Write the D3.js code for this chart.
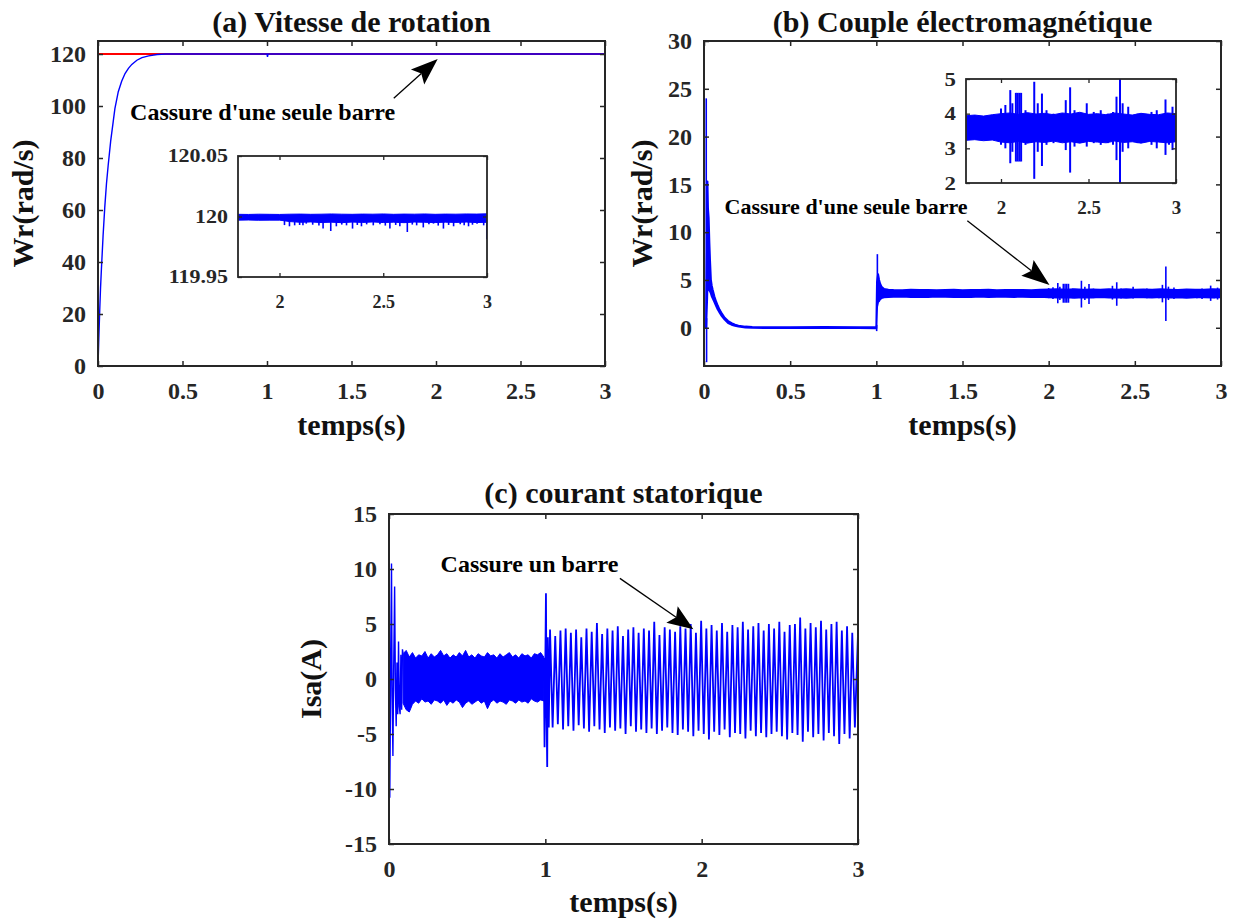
<!DOCTYPE html>
<html>
<head>
<meta charset="utf-8">
<script src="https://cdn.jsdelivr.net/npm/d3@7"></script>
<style>
  body { margin: 0; background: #fff; }
  svg { display: block; }
  svg text { font-family: "Liberation Serif", "Times New Roman", Times, serif !important; font-weight: bold; }
</style>
</head>
<body>
<script>
// ---------------- (a) rotor speed ----------------
const speedT = [0, 0.005, 0.01, 0.015, 0.02, 0.03, 0.04, 0.05, 0.06, 0.075, 0.09, 0.1, 0.12, 0.14, 0.16, 0.18, 0.2, 0.23, 0.26, 0.3, 0.35, 0.4, 0.5, 1.0, 1.003, 1.006, 3.0];
const speedW = [0, 11, 21, 30, 37, 50, 61, 70, 77, 86.5, 94, 99, 105.5, 109.5, 112.5, 114.5, 116, 117.6, 118.6, 119.3, 119.8, 120, 120, 120, 118.9, 120, 120];
const refT = [0, 3];
const refW = [120, 120];

// steady-state ripple of the speed (inset a)
const ripT  = [1.8, 1.85, 1.9, 1.95, 2.0, 2.05, 2.1, 2.15, 2.2, 2.25, 2.3, 2.35, 2.4, 2.45, 2.5, 2.55, 2.6, 2.65, 2.7, 2.75, 2.8, 2.85, 2.9, 2.95, 3.0];
const ripHi = [120.0018, 120.0017, 120.0019, 120.0018, 120.0017, 120.0019, 120.0020, 120.0018, 120.0019, 120.0021, 120.0019, 120.0018, 120.0020, 120.0019, 120.0021, 120.0018, 120.0020, 120.0019, 120.0021, 120.0018, 120.0020, 120.0019, 120.0021, 120.0020, 120.0022];
const ripLo = [119.9970, 119.9971, 119.9969, 119.9970, 119.9970, 119.9958, 119.9952, 119.9955, 119.9950, 119.9953, 119.9949, 119.9954, 119.9951, 119.9955, 119.9950, 119.9953, 119.9949, 119.9954, 119.9952, 119.9950, 119.9953, 119.9951, 119.9954, 119.9950, 119.9952];
const dipT = [2.024, 2.048, 2.073, 2.097, 2.113, 2.129, 2.16, 2.19, 2.21, 2.247, 2.274, 2.30, 2.323, 2.352, 2.375, 2.395, 2.42, 2.452, 2.484, 2.51, 2.532, 2.56, 2.58, 2.616, 2.64, 2.661, 2.693, 2.72, 2.742, 2.765, 2.79, 2.815, 2.839, 2.871, 2.89, 2.911, 2.93, 2.952, 2.984, 2.999];
const dipW = [119.9929, 119.9919, 119.9927, 119.9930, 119.9927, 119.9941, 119.9932, 119.9925, 119.9900, 119.9880, 119.9919, 119.9933, 119.9927, 119.9900, 119.9930, 119.9919, 119.9935, 119.9927, 119.9936, 119.9925, 119.9900, 119.9930, 119.9919, 119.9872, 119.9933, 119.9927, 119.9910, 119.9935, 119.9941, 119.9925, 119.9900, 119.9930, 119.9919, 119.9936, 119.9928, 119.9919, 119.9932, 119.9941, 119.9927, 119.9812];

// ---------------- (b) electromagnetic torque ----------------
const torqueT  = [0, 0.012, 0.018, 0.020, 0.023, 0.027, 0.031, 0.035, 0.040, 0.045, 0.050, 0.060, 0.070, 0.080, 0.090, 0.100, 0.120, 0.140, 0.160, 0.180, 0.200, 0.240, 0.280, 0.350, 0.500, 0.700, 0.900, 1.000, 1.004, 1.010, 1.016, 1.022, 1.030, 1.045, 1.070,
                  1.10, 1.15, 1.20, 1.25, 1.30, 1.35, 1.40, 1.45, 1.50, 1.55, 1.60, 1.65, 1.70, 1.75, 1.80, 1.85, 1.90, 1.95, 2.00, 2.05, 2.10, 2.15, 2.20, 2.25, 2.30, 2.35, 2.40, 2.45, 2.50, 2.55, 2.60, 2.65, 2.70, 2.75, 2.80, 2.85, 2.90, 2.95, 3.00];
const torqueHi = [0, 0, 9, 15.3, 12.5, 11.5, 9.0, 7.0, 5.0, 4.4, 4.0, 3.3, 2.75, 2.3, 1.9, 1.6, 1.05, 0.7, 0.48, 0.32, 0.22, 0.12, 0.08, 0.06, 0.06, 0.07, 0.06, 0.06, 4.8, 5.6, 5.0, 4.6, 4.3, 4.05, 3.98,
                  3.95, 3.93, 3.97, 3.94, 3.96, 3.92, 3.95, 3.98, 3.93, 3.96, 3.94, 3.97, 3.93, 3.95, 3.94, 3.96, 3.93, 3.97, 4.00, 4.02, 3.98, 4.03, 3.99, 4.01, 3.97, 4.02, 3.99, 4.04, 3.98, 4.00, 3.97, 4.02, 3.99, 3.96, 4.01, 3.98, 3.97, 4.02, 4.00];
const torqueLo = [0, 0, 3.0, 4.5, 4.3, 4.0, 3.9, 3.8, 3.6, 3.3, 3.1, 2.7, 2.3, 1.9, 1.6, 1.3, 0.85, 0.5, 0.32, 0.2, 0.12, 0.04, 0.01, -0.02, -0.03, -0.03, -0.03, -0.05, 2.2, 2.7, 2.8, 3.0, 3.1, 3.18, 3.22,
                  3.24, 3.26, 3.23, 3.25, 3.22, 3.26, 3.24, 3.21, 3.25, 3.23, 3.26, 3.22, 3.25, 3.24, 3.23, 3.25, 3.22, 3.24, 3.18, 3.16, 3.20, 3.15, 3.19, 3.17, 3.21, 3.16, 3.19, 3.15, 3.20, 3.18, 3.16, 3.21, 3.17, 3.19, 3.15, 3.20, 3.18, 3.16, 3.19];
const burstT  = [0.013, 0.015, 1.002, 1.006, 2.000, 2.025, 2.053, 2.065, 2.085, 2.095, 2.105, 2.115, 2.14, 2.19, 2.21, 2.234, 2.26, 2.30, 2.37, 2.395, 2.42, 2.49, 2.53, 2.57, 2.61, 2.64, 2.66, 2.68, 2.695, 2.727, 2.78, 2.86, 2.89, 2.94, 2.96, 2.98];
const burstHi = [24, 1.0, 0.3, 7.7, 4.15, 4.25, 4.68, 4.3, 4.6, 4.6, 4.6, 4.6, 4.1, 4.92, 4.3, 4.58, 4.1, 4.0, 4.39, 4.76, 4.1, 4.3, 4.05, 4.1, 4.0, 4.05, 4.49, 6.4, 4.3, 4.2, 4.0, 4.05, 4.1, 4.41, 4.0, 4.2];
const burstLo = [0, -3.6, -0.35, 3.5, 3.1, 3.0, 2.57, 2.9, 2.62, 2.62, 2.62, 2.62, 3.1, 2.12, 2.9, 2.49, 3.1, 3.15, 2.95, 2.3, 3.05, 3.05, 3.15, 3.1, 3.15, 3.1, 2.66, 0.7, 2.9, 3.0, 3.15, 3.1, 3.0, 2.81, 3.1, 2.95];

// ---------------- (c) stator current ----------------
const isStartT = [0, 0.002, 0.005, 0.008, 0.012, 0.016, 0.020, 0.025, 0.030, 0.036, 0.041, 0.046, 0.051, 0.056, 0.061, 0.066, 0.071, 0.076, 0.081, 0.086, 0.090];
const isStartV = [0.5, 8.1, -10.8, -5.0, 3.0, 10.5, -1.5, -7.0, 1.0, 8.4, -1.0, -4.3, 1.5, -3.2, 3.4, -2.5, -3.2, 2.2, -2.8, 2.7, 2.3];
const isBandT0 = 0.09, isBandStep = 0.02;
const isBandHi = [2.3, 2.6, 2.0, 2.4, 1.9, 2.2, 2.1, 2.5, 1.9, 2.3, 2.0, 2.2, 2.6, 2.1, 2.3, 1.9, 2.2, 2.0, 2.4, 2.1, 2.6, 2.0, 2.2, 1.9, 2.3, 2.1, 2.0, 2.4, 2.1, 2.2, 1.9, 2.3, 2.0, 2.2, 2.4, 2.0, 2.2, 1.9, 2.3, 2.1, 2.2, 1.9, 2.3, 2.2, 2.4, 2.0];
const isBandLo = [-2.2, -2.8, -3.0, -2.3, -2.0, -2.2, -1.8, -2.1, -2.0, -2.3, -1.9, -2.0, -2.2, -1.9, -2.4, -2.0, -2.2, -1.9, -2.1, -2.6, -2.2, -2.0, -2.3, -2.1, -1.9, -2.2, -2.0, -2.7, -2.1, -1.9, -2.2, -2.0, -2.1, -2.3, -1.9, -2.0, -2.2, -1.9, -2.1, -2.0, -2.2, -1.8, -2.0, -2.1, -1.9, -2.0];
const isStepT = [0.99, 0.995, 1.0, 1.004, 1.008, 1.012, 1.016, 1.022];
const isStepV = [1.9, -6.2, 1.5, 7.8, -3.0, -8.0, 3.8, -4.4];
const isCycleT0 = 1.03, isCyclePeriod = 1 / 30;
const isPeakHi = [4.5, 3.9, 4.4, 4.6, 4.2, 4.5, 3.8, 4.6, 4.3, 5.1, 4.1, 4.6, 4.4, 4.8, 3.9, 4.5, 4.7, 4.2, 4.6, 4.4, 5.2, 4.0, 4.7, 4.5, 4.3, 4.8, 4.6, 5.0, 4.2, 5.3,
                  4.6, 4.9, 4.4, 5.1, 4.3, 4.9, 4.7, 5.2, 4.5, 4.8, 5.1, 4.4, 5.0, 4.6, 5.2, 4.3, 4.9, 5.0, 5.6, 4.6, 5.1, 4.7, 5.3, 4.5, 5.0, 5.2, 4.4, 4.8, 4.2];
const isPeakLo = [-4.4, -4.1, -4.6, -4.3, -4.7, -4.2, -4.5, -4.8, -4.3, -4.6, -4.9, -4.4, -4.7, -4.5, -5.0, -4.3, -4.8, -4.6, -4.9, -4.5, -5.0, -4.7, -4.4, -4.9, -5.1, -4.6, -4.8, -5.2, -4.7, -5.0,
                  -5.5, -4.8, -5.1, -4.6, -5.3, -4.9, -5.0, -5.4, -4.7, -5.2, -4.9, -5.3, -5.0, -4.8, -5.2, -5.5, -4.9, -5.1, -5.7, -4.8, -5.3, -5.0, -5.6, -4.9, -5.2, -5.9, -5.0, -5.4, -4.4];
const isEndT = [3.0];
const isEndV = [4.1];

// ---------------- ticks ----------------
const ticksAx = [0, 0.5, 1, 1.5, 2, 2.5, 3];
const ticksAy = [0, 20, 40, 60, 80, 100, 120];
const ticksBx = [0, 0.5, 1, 1.5, 2, 2.5, 3];
const ticksBy = [0, 5, 10, 15, 20, 25, 30];
const ticksCx = [0, 1, 2, 3];
const ticksCy = [-15, -10, -5, 0, 5, 10, 15];
const insetTicksX = [2, 2.5, 3];
const insetAy = [119.95, 120, 120.05];
const insetBy = [2, 3, 4, 5];

// ---------------- drawing ----------------
const BLUE = "#0000ff", RED = "#ff0000", INK = "#262626";
const FONT = "Liberation Serif";

const svg = d3.select("body").append("svg").attr("width", 1235).attr("height", 921);
let clipCount = 0;

function axes(box, xDom, yDom, fillBg) {
  const x = d3.scaleLinear().domain(xDom).range([box.x0, box.x1]);
  const y = d3.scaleLinear().domain(yDom).range([box.y1, box.y0]);
  const id = "clip" + (++clipCount);
  svg.append("clipPath").attr("id", id).append("rect")
    .attr("x", box.x0).attr("y", box.y0)
    .attr("width", box.x1 - box.x0).attr("height", box.y1 - box.y0);
  if (fillBg) {
    svg.append("rect").attr("x", box.x0).attr("y", box.y0)
      .attr("width", box.x1 - box.x0).attr("height", box.y1 - box.y0).attr("fill", "#fff");
  }
  const plot = svg.append("g").attr("clip-path", `url(#${id})`);
  return { x, y, plot, box };
}

function frame(ax, xTicks, yTicks, o) {
  const { x, y, box } = ax;
  const fmt = d => String(d);
  const gB = svg.append("g").attr("transform", `translate(0,${box.y1})`)
    .call(d3.axisBottom(x).tickValues(xTicks).tickSize(-o.tick).tickSizeOuter(0).tickPadding(o.padX).tickFormat(fmt));
  const gT = svg.append("g").attr("transform", `translate(0,${box.y0})`)
    .call(d3.axisTop(x).tickValues(xTicks).tickSize(-o.tick).tickSizeOuter(0).tickFormat(""));
  const gL = svg.append("g").attr("transform", `translate(${box.x0},0)`)
    .call(d3.axisLeft(y).tickValues(yTicks).tickSize(-o.tick).tickSizeOuter(0).tickPadding(o.padY).tickFormat(fmt));
  const gR = svg.append("g").attr("transform", `translate(${box.x1},0)`)
    .call(d3.axisRight(y).tickValues(yTicks).tickSize(-o.tick).tickSizeOuter(0).tickFormat(""));
  [gB, gT, gL, gR].forEach(g => {
    g.select(".domain").remove();
    g.attr("font-family", FONT).attr("font-size", o.font).attr("font-weight", "bold").attr("color", INK);
    g.selectAll("text").style("font-size", o.font + "px");
    g.selectAll(".tick line").attr("stroke-width", o.tickW);
  });
  if (o.stretchY) {
    gL.selectAll("text").each(function () {
      const w = this.getComputedTextLength();
      d3.select(this).attr("textLength", w * o.stretchY).attr("lengthAdjust", "spacingAndGlyphs");
    });
  }
  svg.append("rect").attr("x", box.x0).attr("y", box.y0)
    .attr("width", box.x1 - box.x0).attr("height", box.y1 - box.y0)
    .attr("fill", "none").attr("stroke", INK).attr("stroke-width", o.frameW);
}

function label(x, y, txt, size, opts = {}) {
  const t = svg.append("text").attr("x", x).attr("y", y).text(txt)
    .attr("font-family", FONT).attr("font-weight", "bold").style("font-size", size + "px")
    .attr("fill", opts.fill || "#111").attr("text-anchor", opts.anchor || "middle");
  if (opts.rotate) t.attr("transform", `rotate(-90,${x},${y})`);
  return t;
}

function arrow(ax, from, to, headLen, headHalf) {
  const x1 = ax.x(from[0]), y1 = ax.y(from[1]);
  const x2 = ax.x(to[0]), y2 = ax.y(to[1]);
  const dx = x2 - x1, dy = y2 - y1, L = Math.hypot(dx, dy);
  const ux = dx / L, uy = dy / L, nx = -uy, ny = ux;
  const bx = x2 - ux * headLen, by = y2 - uy * headLen;
  const nbx = x2 - ux * (headLen - 5), nby = y2 - uy * (headLen - 5);
  svg.append("line").attr("x1", x1).attr("y1", y1).attr("x2", nbx).attr("y2", nby)
    .attr("stroke", "#000").attr("stroke-width", 1.3);
  svg.append("path")
    .attr("d", `M${x2},${y2}L${bx + nx * headHalf},${by + ny * headHalf}L${nbx},${nby}L${bx - nx * headHalf},${by - ny * headHalf}Z`)
    .attr("fill", "#000");
}

const mainStyle = { tick: 5, tickW: 1.5, frameW: 2, font: 24, padX: 16, padY: 12 };

// ===== (a) =====
const A = axes({ x0: 98, x1: 605, y0: 41, y1: 366 }, [0, 3], [0, 125]);
A.plot.append("path")
  .attr("d", d3.line().x((d, i) => A.x(refT[i])).y((d, i) => A.y(refW[i]))(refT))
  .attr("fill", "none").attr("stroke", RED).attr("stroke-width", 2);
A.plot.append("path")
  .attr("d", d3.line().x((d, i) => A.x(speedT[i])).y((d, i) => A.y(speedW[i]))(speedT))
  .attr("fill", "none").attr("stroke", BLUE).attr("stroke-width", 1.4);
frame(A, ticksAx, ticksAy, mainStyle);

// inset (a)
const Ai = axes({ x0: 238, x1: 487, y0: 156, y1: 277 }, [1.8, 3], [119.95, 120.05], true);
Ai.plot.append("path")
  .attr("d", d3.area().x((d, i) => Ai.x(ripT[i])).y0((d, i) => Ai.y(ripLo[i])).y1((d, i) => Ai.y(ripHi[i]))(ripT))
  .attr("fill", BLUE).attr("stroke", BLUE).attr("stroke-width", 1);
Ai.plot.selectAll("line.dip").data(dipT).join("line").attr("class", "dip")
  .attr("x1", d => Ai.x(d)).attr("x2", d => Ai.x(d))
  .attr("y1", Ai.y(120)).attr("y2", (d, i) => Ai.y(dipW[i]))
  .attr("stroke", BLUE).attr("stroke-width", 1.6);
frame(Ai, insetTicksX, insetAy, { tick: 4, tickW: 1.3, frameW: 1.8, font: 18, padX: 18, padY: 10, stretchY: 1.22 });

label(351.5, 32, "(a) Vitesse de rotation", 30);
label(351.5, 435, "temps(s)", 30);
label(33, 203.5, "Wr(rad/s)", 30, { rotate: true });
label(A.x(0.19), A.y(94.6), "Cassure d'une seule barre", 24, { anchor: "start", fill: "#000" });
arrow(A, [1.75, 103], [2.01, 118.1], 27, 10);

// ===== (b) =====
const B = axes({ x0: 704, x1: 1221, y0: 41, y1: 366 }, [0, 3], [-4, 30]);
function drawTorque(ax, bandW, burstW) {
  ax.plot.append("path")
    .attr("d", d3.area().x((d, i) => ax.x(torqueT[i])).y0((d, i) => ax.y(torqueLo[i])).y1((d, i) => ax.y(torqueHi[i]))(torqueT))
    .attr("fill", BLUE).attr("stroke", BLUE).attr("stroke-width", bandW).attr("stroke-linejoin", "round");
  ax.plot.append("g").selectAll("line").data(burstT).join("line")
    .attr("x1", d => ax.x(d)).attr("x2", d => ax.x(d))
    .attr("y1", (d, i) => ax.y(burstHi[i])).attr("y2", (d, i) => ax.y(burstLo[i]))
    .attr("stroke", BLUE).attr("stroke-width", burstW);
}
drawTorque(B, 2, 1.6);
frame(B, ticksBx, ticksBy, mainStyle);

const Bi = axes({ x0: 966, x1: 1176, y0: 79, y1: 183 }, [1.8, 3], [2, 5], true);
drawTorque(Bi, 1, 2);
frame(Bi, insetTicksX, insetBy, { tick: 4, tickW: 1.3, frameW: 1.8, font: 19, padX: 18, padY: 10, stretchY: 1.2 });

label(962.5, 32, "(b) Couple électromagnétique", 30);
label(962.5, 435, "temps(s)", 30);
label(652, 203.5, "Wr(rad/s)", 30, { rotate: true });
label(B.x(0.119), B.y(11.9), "Cassure d'une seule barre", 22, { anchor: "start", fill: "#000" });
arrow(B, [1.528, 11.2], [2.005, 4.47], 28, 10);

// ===== (c) =====
const C = axes({ x0: 389, x1: 858, y0: 514, y1: 844 }, [0, 3], [-15, 15]);
const lineC = d3.line().x(d => C.x(d[0])).y(d => C.y(d[1]));
C.plot.append("path")
  .attr("d", lineC(isStartT.map((t, i) => [t, isStartV[i]])))
  .attr("fill", "none").attr("stroke", BLUE).attr("stroke-width", 1.4);
C.plot.append("path")
  .attr("d", d3.area()
    .x((d, i) => C.x(isBandT0 + i * isBandStep))
    .y0((d, i) => C.y(isBandLo[i])).y1((d, i) => C.y(isBandHi[i]))(isBandHi))
  .attr("fill", BLUE).attr("stroke", BLUE).attr("stroke-width", 1);
const cyclePts = [];
isStepT.forEach((t, i) => cyclePts.push([t, isStepV[i]]));
isPeakHi.forEach((v, i) => {
  cyclePts.push([isCycleT0 + i * isCyclePeriod, v]);
  cyclePts.push([isCycleT0 + (i + 0.5) * isCyclePeriod, isPeakLo[i]]);
});
isEndT.forEach((t, i) => cyclePts.push([t, isEndV[i]]));
C.plot.append("path").attr("d", lineC(cyclePts))
  .attr("fill", "none").attr("stroke", BLUE).attr("stroke-width", 1.8);
frame(C, ticksCx, ticksCy, mainStyle);

label(623.5, 503, "(c) courant statorique", 30);
label(623.5, 912, "temps(s)", 30);
label(321, 679, "Isa(A)", 30, { rotate: true });
label(C.x(0.33), C.y(9.75), "Cassure un barre", 24, { anchor: "start", fill: "#000" });
arrow(C, [1.477, 9.15], [1.947, 4.52], 26, 10);
</script>
</body>
</html>
